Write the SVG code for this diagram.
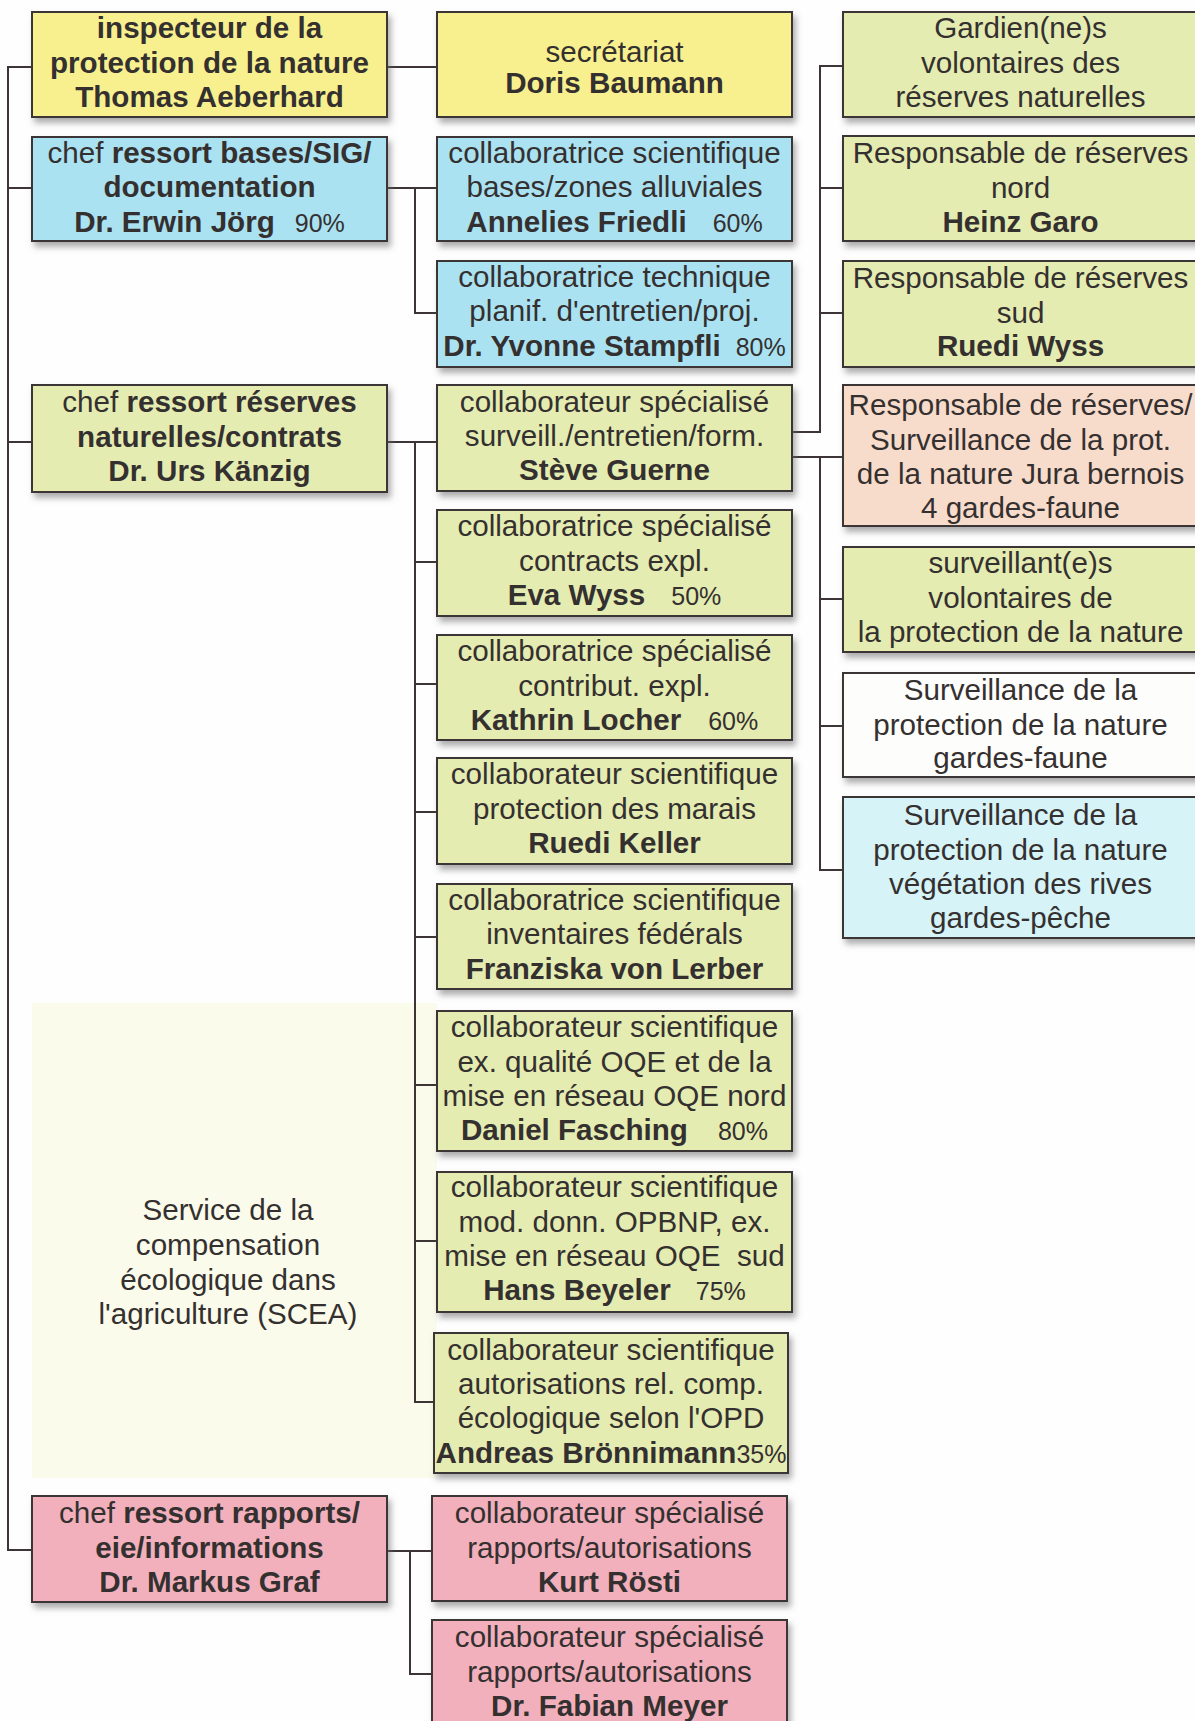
<svg xmlns="http://www.w3.org/2000/svg" width="1195" height="1721" viewBox="0 0 1195 1721">
<defs>
<filter id="sh" x="-5%" y="-10%" width="115%" height="135%">
<feDropShadow dx="3" dy="5" stdDeviation="3" flood-color="#6a6a6a" flood-opacity="0.55"/>
</filter>
</defs>
<style>
.bx{stroke:#3b3434;stroke-width:2;filter:url(#sh)}
.y{fill:#f8f08e}.bl{fill:#aae2f2}.g{fill:#e4ecb1}.pk{fill:#f1b0bc}.pe{fill:#f8dccb}.w{fill:#fdfdfb}.cy{fill:#d6f3f7}
text{font-family:"Liberation Sans",Arial,sans-serif;font-size:29.6px;fill:#353030;text-anchor:middle}
.b{font-weight:bold}
.p{font-size:25px;font-weight:normal}
.c{fill:none;stroke:#3d3535;stroke-width:2}
</style>
<rect width="1195" height="1721" fill="#fefefe"/>
<rect x="32" y="1003" width="405" height="475" fill="#fafbea"/>
<g id="connectors">
<path class="c" d="M32 67H8V1550H32M8 188H32M8 442H32"/>
<path class="c" d="M387 67H437"/>
<path class="c" d="M387 188H437M415 188V313H437"/>
<path class="c" d="M387 442H437M415 442V1402H437M415 562H437M415 684H437M415 812H437M415 937H437M415 1085H437M415 1241H437M415 1402H434"/>
<path class="c" d="M792 432H820V66H843M820 188H843M820 313H843"/>
<path class="c" d="M792 457H843M820 457V870H843M820 599H843M820 726H843"/>
<path class="c" d="M386 1551H432M410 1551V1674H432"/>
</g>
<g id="n-inspecteur"><rect class="bx y" x="32" y="12" width="355" height="105"/>
<text x="209.5" y="38" class="b">inspecteur de la</text><text x="209.5" y="73" class="b">protection de la nature</text><text x="209.5" y="107" class="b">Thomas Aeberhard</text></g>
<g id="n-chef-bases"><rect class="bx bl" x="32" y="137" width="355" height="104"/>
<text x="209.5" y="163">chef <tspan class="b">ressort bases/SIG/</tspan></text><text x="209.5" y="197" class="b">documentation</text><text x="209.5" y="232"><tspan class="b">Dr. Erwin Jörg</tspan><tspan class="p" dx="20">90%</tspan></text></g>
<g id="n-chef-reserves"><rect class="bx g" x="32" y="385" width="355" height="107"/>
<text x="209.5" y="412">chef <tspan class="b">ressort réserves</tspan></text><text x="209.5" y="446.5" class="b">naturelles/contrats</text><text x="209.5" y="481" class="b">Dr. Urs Känzig</text></g>
<g id="n-chef-rapports"><rect class="bx pk" x="32" y="1496" width="355" height="106"/>
<text x="209.5" y="1523">chef <tspan class="b">ressort rapports/</tspan></text><text x="209.5" y="1557.5" class="b">eie/informations</text><text x="209.5" y="1592" class="b">Dr. Markus Graf</text></g>
<g id="n-scea">
<text x="228" y="1220">Service de la</text><text x="228" y="1255">compensation</text><text x="228" y="1290">écologique dans</text><text x="228" y="1324">l'agriculture (SCEA)</text></g>
<g id="n-secretariat"><rect class="bx y" x="437" y="12" width="355" height="105"/>
<text x="614.5" y="62">secrétariat</text><text x="614.5" y="93" class="b">Doris Baumann</text></g>
<g id="n-friedli"><rect class="bx bl" x="437" y="137" width="355" height="104"/>
<text x="614.5" y="163">collaboratrice scientifique</text><text x="614.5" y="197">bases/zones alluviales</text><text x="614.5" y="232"><tspan class="b">Annelies Friedli</tspan><tspan class="p" dx="26">60%</tspan></text></g>
<g id="n-stampfli"><rect class="bx bl" x="437" y="261" width="355" height="106"/>
<text x="614.5" y="287">collaboratrice technique</text><text x="614.5" y="321">planif. d'entretien/proj.</text><text x="614.5" y="356"><tspan class="b">Dr. Yvonne Stampfli</tspan><tspan class="p" dx="15">80%</tspan></text></g>
<g id="n-guerne"><rect class="bx g" x="437" y="385" width="355" height="106"/>
<text x="614.5" y="412">collaborateur spécialisé</text><text x="614.5" y="446">surveill./entretien/form.</text><text x="614.5" y="480" class="b">Stève Guerne</text></g>
<g id="n-wyss-eva"><rect class="bx g" x="437" y="510" width="355" height="106"/>
<text x="614.5" y="536">collaboratrice spécialisé</text><text x="614.5" y="571">contracts expl.</text><text x="614.5" y="605"><tspan class="b">Eva Wyss</tspan><tspan class="p" dx="26">50%</tspan></text></g>
<g id="n-locher"><rect class="bx g" x="437" y="635" width="355" height="105"/>
<text x="614.5" y="661">collaboratrice spécialisé</text><text x="614.5" y="696">contribut. expl.</text><text x="614.5" y="730"><tspan class="b">Kathrin Locher</tspan><tspan class="p" dx="27">60%</tspan></text></g>
<g id="n-keller"><rect class="bx g" x="437" y="758" width="355" height="106"/>
<text x="614.5" y="784">collaborateur scientifique</text><text x="614.5" y="819">protection des marais</text><text x="614.5" y="853" class="b">Ruedi Keller</text></g>
<g id="n-lerber"><rect class="bx g" x="437" y="884" width="355" height="105"/>
<text x="614.5" y="910">collaboratrice scientifique</text><text x="614.5" y="944">inventaires fédérals</text><text x="614.5" y="979" class="b">Franziska von Lerber</text></g>
<g id="n-fasching"><rect class="bx g" x="437" y="1011" width="355" height="140"/>
<text x="614.5" y="1037">collaborateur scientifique</text><text x="614.5" y="1072">ex. qualité OQE et de la</text><text x="614.5" y="1106">mise en réseau OQE nord</text><text x="614.5" y="1140"><tspan class="b">Daniel Fasching</tspan><tspan class="p" dx="30">80%</tspan></text></g>
<g id="n-beyeler"><rect class="bx g" x="437" y="1172" width="355" height="140"/>
<text x="614.5" y="1197">collaborateur scientifique</text><text x="614.5" y="1232">mod. donn. OPBNP, ex.</text><text x="614.5" y="1266" xml:space="preserve">mise en réseau OQE  sud</text><text x="614.5" y="1300"><tspan class="b">Hans Beyeler</tspan><tspan class="p" dx="25">75%</tspan></text></g>
<g id="n-bronnimann"><rect class="bx g" x="434" y="1333" width="354" height="140"/>
<text x="611" y="1360">collaborateur scientifique</text><text x="611" y="1394">autorisations rel. comp.</text><text x="611" y="1428">écologique selon l'OPD</text><text x="611" y="1463"><tspan class="b">Andreas Brönnimann</tspan><tspan class="p">35%</tspan></text></g>
<g id="n-rosti"><rect class="bx pk" x="432" y="1496" width="355" height="105"/>
<text x="609.5" y="1523">collaborateur spécialisé</text><text x="609.5" y="1558">rapports/autorisations</text><text x="609.5" y="1592" class="b">Kurt Rösti</text></g>
<g id="n-meyer"><rect class="bx pk" x="432" y="1620" width="355" height="110"/>
<text x="609.5" y="1647">collaborateur spécialisé</text><text x="609.5" y="1682">rapports/autorisations</text><text x="609.5" y="1716" class="b">Dr. Fabian Meyer</text></g>
<g id="n-gardiens"><rect class="bx g" x="843" y="12" width="355" height="105"/>
<text x="1020.5" y="38">Gardien(ne)s</text><text x="1020.5" y="73">volontaires des</text><text x="1020.5" y="107">réserves naturelles</text></g>
<g id="n-garo"><rect class="bx g" x="843" y="136" width="355" height="105"/>
<text x="1020.5" y="163">Responsable de réserves</text><text x="1020.5" y="198">nord</text><text x="1020.5" y="232" class="b">Heinz Garo</text></g>
<g id="n-wyss-ruedi"><rect class="bx g" x="843" y="261" width="355" height="106"/>
<text x="1020.5" y="288">Responsable de réserves</text><text x="1020.5" y="323">sud</text><text x="1020.5" y="356" class="b">Ruedi Wyss</text></g>
<g id="n-jura"><rect class="bx pe" x="843" y="385" width="355" height="141"/>
<text x="1020.5" y="415">Responsable de réserves/</text><text x="1020.5" y="450">Surveillance de la prot.</text><text x="1020.5" y="484">de la nature Jura bernois</text><text x="1020.5" y="518">4 gardes-faune</text></g>
<g id="n-surveillants"><rect class="bx g" x="843" y="547" width="355" height="105"/>
<text x="1020.5" y="573">surveillant(e)s</text><text x="1020.5" y="608">volontaires de</text><text x="1020.5" y="642">la protection de la nature</text></g>
<g id="n-gardes-faune"><rect class="bx w" x="843" y="673" width="355" height="104"/>
<text x="1020.5" y="700">Surveillance de la</text><text x="1020.5" y="735">protection de la nature</text><text x="1020.5" y="768">gardes-faune</text></g>
<g id="n-gardes-peche"><rect class="bx cy" x="843" y="797" width="355" height="141"/>
<text x="1020.5" y="825">Surveillance de la</text><text x="1020.5" y="860">protection de la nature</text><text x="1020.5" y="894">végétation des rives</text><text x="1020.5" y="928">gardes-pêche</text></g>
</svg>
